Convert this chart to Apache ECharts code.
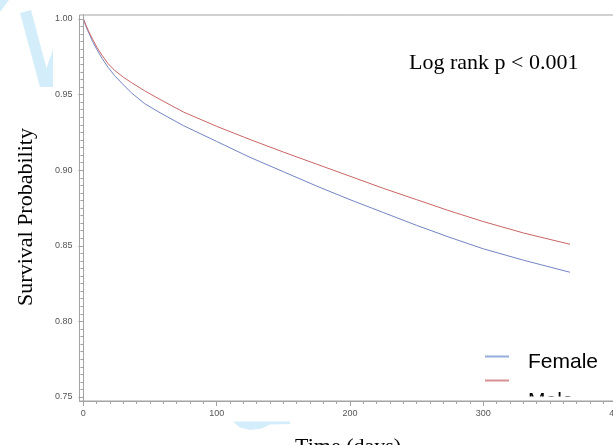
<!DOCTYPE html>
<html>
<head>
<meta charset="utf-8">
<script src="https://cdn.jsdelivr.net/npm/echarts@6/dist/echarts.min.js"></script>
<style>html,body{margin:0;padding:0;background:#fff;}#c{width:613px;height:445px;}</style>
</head>
<body>
<div id="c"></div>
<script>
// ---- data ----
var days = [0, 1, 2, 3.5, 5, 7, 10, 14, 18.5, 23.5, 30, 36, 46, 57.5, 75, 100, 125, 150, 175, 200, 225, 250, 275, 300, 330, 365];
var female = [1.000, 0.9975, 0.995, 0.992, 0.989, 0.985, 0.980, 0.974, 0.968, 0.9625, 0.9565, 0.9512, 0.944, 0.938, 0.9295, 0.919, 0.9085, 0.899, 0.8895, 0.8805, 0.872, 0.8635, 0.8555, 0.848, 0.8405, 0.8325];
var male   = [1.000, 0.998, 0.9958, 0.9928, 0.990, 0.9865, 0.9815, 0.976, 0.9705, 0.966, 0.9615, 0.958, 0.9525, 0.9468, 0.9385, 0.929, 0.9203, 0.912, 0.904, 0.896, 0.888, 0.8805, 0.873, 0.866, 0.8585, 0.851];
var xTickLabels = [0, 100, 200, 300, 400];
var yTickLabels = [0.75, 0.80, 0.85, 0.90, 0.95, 1.00];
var seriesNames = ['Female', 'Male'];
var annotation = 'Log rank p < 0.001';
var xTitle = 'Time (days)';
var yTitle = 'Survival Probability';

// minor tick values
var xMinor = []; for (var i = 0; i <= 400; i += 10) xMinor.push(i);
var yMinor = []; for (var j = 0; j <= 50; j++) yMinor.push(+(0.75 + j * 0.005).toFixed(3));

function pairs(xs, ys) { return xs.map(function (x, k) { return [x, ys[k]]; }); }

var axisColor = '#a3a3a3';
var serif = '"Liberation Serif", "Times New Roman", serif';
var gridRect = { left: 79.5, right: -3.67, top: 15, bottom: 44, containLabel: false, outerBoundsMode: 'none' };
var X_MIN = -2.9, X_MAX = 400, Y_MIN = 0.74735, Y_MAX = 1.00265;

var chart = echarts.init(document.getElementById('c'), null, { renderer: 'canvas' });
chart.setOption({
  animation: false,
  backgroundColor: '#ffffff',
  grid: [
    Object.assign({ show: true, borderColor: axisColor, borderWidth: 1, backgroundColor: 'transparent', z: 5 }, gridRect),
    Object.assign({ show: false, z: 5 }, gridRect)
  ],
  xAxis: [{
    type: 'value', gridIndex: 0, min: X_MIN, max: X_MAX, z: 5,
    name: xTitle, nameLocation: 'middle', nameGap: 35,
    nameTextStyle: { fontFamily: serif, fontSize: 22, color: '#000' },
    axisLine: { show: true, lineStyle: { color: axisColor } },
    axisTick: { show: true, inside: false, length: 5, customValues: xTickLabels, lineStyle: { color: axisColor } },
    axisLabel: { show: true, customValues: xTickLabels, margin: 8, fontSize: 9, color: '#555', fontFamily: '"Liberation Sans", Arial, sans-serif', hideOverlap: false },
    splitLine: { show: false }
  }, {
    type: 'value', gridIndex: 1, min: X_MIN, max: X_MAX, z: 5,
    axisLine: { show: false },
    axisTick: { show: true, inside: false, length: 3, customValues: xMinor, lineStyle: { color: axisColor } },
    axisLabel: { show: false },
    splitLine: { show: false }
  }],
  yAxis: [{
    type: 'value', gridIndex: 0, min: Y_MIN, max: Y_MAX, z: 5,
    name: yTitle, nameLocation: 'middle', nameGap: 42, nameRotate: 90,
    nameTextStyle: { fontFamily: serif, fontSize: 22, color: '#000', padding: [0, 18, 0, 0] },
    axisLine: { show: true, lineStyle: { color: axisColor } },
    axisTick: { show: true, inside: false, length: 5, customValues: yTickLabels, lineStyle: { color: axisColor } },
    axisLabel: { show: true, customValues: yTickLabels, margin: 7, fontSize: 9, color: '#555', fontFamily: '"Liberation Sans", Arial, sans-serif',
      formatter: function (v) { return v.toFixed(2); } },
    splitLine: { show: false }
  }, {
    type: 'value', gridIndex: 1, min: Y_MIN, max: Y_MAX, z: 5,
    axisLine: { show: false },
    axisTick: { show: true, inside: false, length: 3, customValues: yMinor, lineStyle: { color: axisColor } },
    axisLabel: { show: false },
    splitLine: { show: false }
  }],
  series: [{
    name: seriesNames[0], type: 'line', xAxisIndex: 0, yAxisIndex: 0,
    data: pairs(days, female), showSymbol: false, symbol: 'none', smooth: false,
    lineStyle: { color: '#7384c3', width: 1 }, itemStyle: { color: '#7384c3' }
  }, {
    name: seriesNames[1], type: 'line', xAxisIndex: 0, yAxisIndex: 0,
    data: pairs(days, male), showSymbol: false, symbol: 'none', smooth: false,
    lineStyle: { color: '#c96666', width: 1 }, itemStyle: { color: '#c96666' }
  }],
  graphic: [
    // watermark shapes
    { type: 'polygon', z: -10, silent: true, shape: { points: [[0, 0], [9, 0], [0, 12]] }, style: { fill: '#d3eefa' } },
    { type: 'polygon', z: -10, silent: true, shape: { points: [[20, 13], [31, 10], [48, 74], [40, 87]] }, style: { fill: '#d3eefa' } },
    { type: 'polygon', z: -10, silent: true, shape: { points: [[40, 87], [53, 49], [53, 87]] }, style: { fill: '#d3eefa' } },
    { type: 'polygon', z: -10, silent: true, shape: { points: [[233, 421.5], [290, 421.5], [290, 424], [270, 424.5], [262, 428.5], [250, 430], [240, 427.5]] }, style: { fill: '#d3eefa' } },
    // annotation
    { type: 'text', z: 6, left: 409, top: 52, style: { text: annotation, font: '22px "Liberation Serif", serif', fill: '#000' } },
    // legend
    { type: 'line', z: 1, shape: { x1: 485, y1: 356.5, x2: 509, y2: 356.5 }, style: { stroke: '#93acd9', lineWidth: 2 } },
    { type: 'line', z: 1, shape: { x1: 485, y1: 380.5, x2: 509, y2: 380.5 }, style: { stroke: '#d98f8f', lineWidth: 2 } },
    { type: 'text', z: 1, style: { x: 528, y: 362.5, text: seriesNames[0], font: '21px "Liberation Sans", Arial, sans-serif', fill: '#000', verticalAlign: 'middle' } },
    { type: 'text', z: 1, style: { x: 528, y: 401, text: seriesNames[1], font: '21px "Liberation Sans", Arial, sans-serif', fill: '#000', verticalAlign: 'middle' } },
    // plot-area clip for the cut-off legend entry
    { type: 'rect', z: 2, silent: true, shape: { x: 515, y: 396.5, width: 93, height: 16 }, style: { fill: '#ffffff' } }
  ]
});
</script>
</body>
</html>
